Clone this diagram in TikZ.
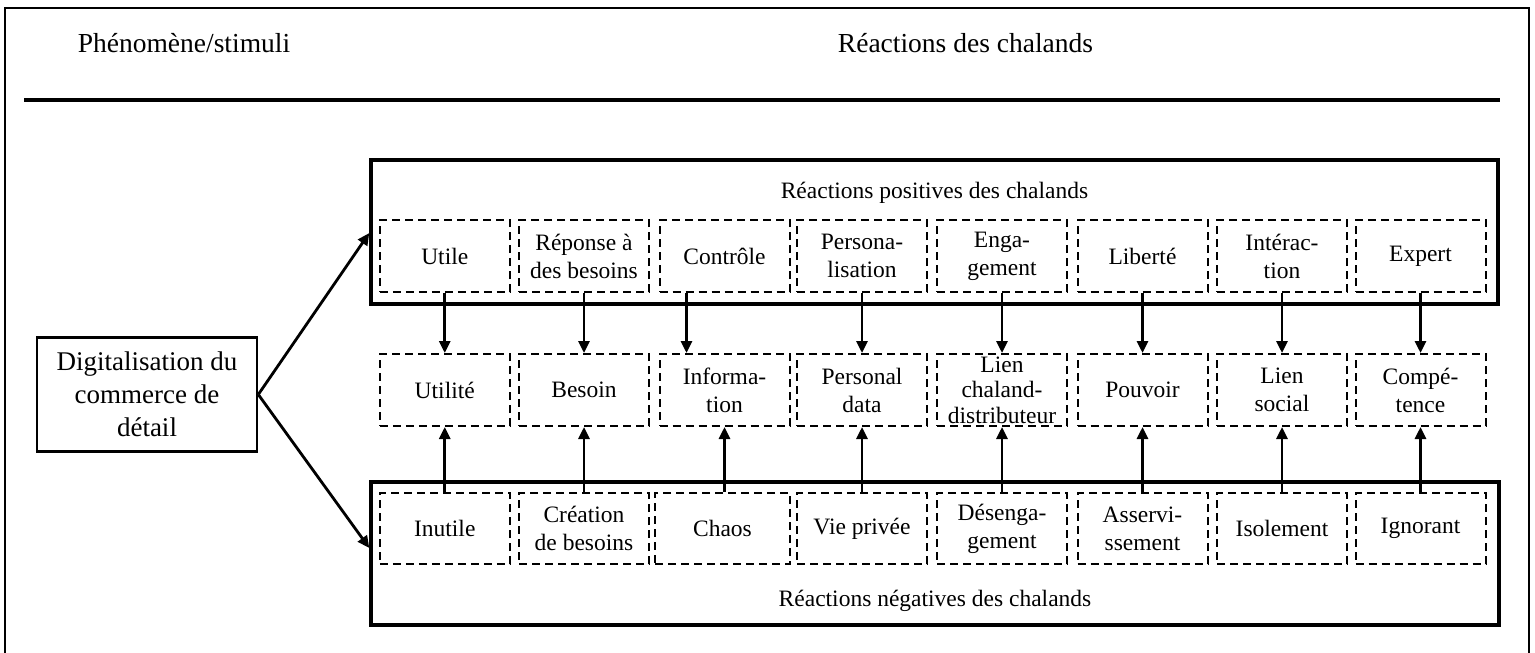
\documentclass[tikz,border=0pt]{standalone}
\usepackage{fontspec}
\setmainfont{Liberation Serif}
\usetikzlibrary{arrows.meta}
\begin{document}
\begin{tikzpicture}[x=1pt,y=-1pt,
  dbox/.style={draw, dash pattern=on 8pt off 5pt, line width=2pt, minimum width=130pt, minimum height=72pt, inner sep=0pt, align=center, font=\fontsize{23.5}{28}\selectfont},
  bigbox/.style={draw, line width=3.4pt, inner sep=0pt},
  lbl/.style={font=\fontsize{23.5}{28}\selectfont, anchor=base, inner sep=0pt},
  head/.style={font=\fontsize{27.5}{33}\selectfont, anchor=base, inner sep=0pt},
  arr/.style={line width=2.8pt, -{Triangle[length=12pt,width=11pt]}},
  ]
\useasboundingbox (0,0) rectangle (1535,653);
% outer frame and header
\draw[line width=2.2pt] (5,653) -- (5,8) -- (1529,8) -- (1529,653);
\draw[line width=3.2pt] (24,100) -- (1500,100);
\node[head] (h1) at (184,52.5) {Phénomène/stimuli};
\node[head] (h2) at (965.5,52.5) {Réactions des chalands};
% big boxes
\node[bigbox, minimum width=1127pt, minimum height=144pt] (P) at (934.5,232) {};
\node[bigbox, minimum width=1128pt, minimum height=143pt] (N) at (935,553.5) {};
\node[lbl] (Pl) at (934.5,198) {Réactions positives des chalands};
\node[lbl] (Nl) at (935,606) {Réactions négatives des chalands};
% digitalisation box
\node[draw, line width=2.6pt, minimum width=220pt, minimum height=114.5pt, inner sep=0pt, align=center, font=\fontsize{27}{33}\selectfont] (D) at (147,394.5) {Digitalisation du\\commerce de\\détail};
% upper row
\node[dbox] (u1) at (444.75,256) {Utile};
\node[dbox] (u2) at (584,256) {Réponse à\\des besoins};
\node[dbox] (u3) at (724.5,256) {Contrôle};
\node[dbox] (u4) at (862,256) {Persona-\\lisation};
\node[dbox] (u5) at (1002,256) {Enga-\\gement};
\node[dbox] (u6) at (1142.5,256) {Liberté};
\node[dbox] (u7) at (1282,256) {Intérac-\\tion};
\node[dbox] (u8) at (1420.5,256) {Expert};
% middle row
\node[dbox] (m1) at (444.75,390) {Utilité};
\node[dbox] (m2) at (584,390) {Besoin};
\node[dbox] (m3) at (724.5,390) {Informa-\\tion};
\node[dbox] (m4) at (862,390) {Personal\\data};
\node[dbox, label={[font=\fontsize{23.5}{25.5}\selectfont, align=center, inner sep=0pt]center:Lien\\chaland-\\distributeur}] (m5) at (1002,390) {};
\node[dbox] (m6) at (1142.5,390) {Pouvoir};
\node[dbox] (m7) at (1282,390) {Lien\\social};
\node[dbox] (m8) at (1420.5,390) {Compé-\\tence};
% lower row
\node[dbox, minimum height=71pt] (l1) at (444.75,528.5) {Inutile};
\node[dbox, minimum height=71pt] (l2) at (584,528.5) {Création\\de besoins};
\node[dbox, minimum height=71pt, minimum width=135pt] (l3) at (722.5,528.5) {Chaos};
\node[dbox, minimum height=71pt] (l4) at (862,528.5) {Vie privée};
\node[dbox, minimum height=71pt] (l5) at (1002,528.5) {Désenga-\\gement};
\node[dbox, minimum height=71pt] (l6) at (1142.5,528.5) {Asservi-\\ssement};
\node[dbox, minimum height=71pt] (l7) at (1282,528.5) {Isolement};
\node[dbox, minimum height=71pt] (l8) at (1420.5,528.5) {Ignorant};
% arrows from digitalisation
\draw[arr] (D.east) -- ([yshift=-1pt]P.west);
\draw[arr] (D.east) -- ([yshift=5.5pt]N.west);
% arrows down
\draw[arr] (u1.south) -- (m1.north);
\draw[arr] (u2.south) -- (m2.north);
\draw[arr] ([xshift=-38pt]u3.south) -- ([xshift=-38pt]u3.south |- m3.north);
\draw[arr] (u4.south) -- (m4.north);
\draw[arr] (u5.south) -- (m5.north);
\draw[arr] (u6.south) -- (m6.north);
\draw[arr] (u7.south) -- (m7.north);
\draw[arr] (u8.south) -- (m8.north);
% arrows up
\draw[arr] (l1.north) -- (m1.south);
\draw[arr] (l2.north) -- (m2.south);
\draw[arr] (l3.north -| m3.south) -- (m3.south);
\draw[arr] (l4.north) -- (m4.south);
\draw[arr] (l5.north) -- (m5.south);
\draw[arr] (l6.north) -- (m6.south);
\draw[arr] (l7.north) -- (m7.south);
\draw[arr] (l8.north) -- (m8.south);
\end{tikzpicture}
\end{document}
